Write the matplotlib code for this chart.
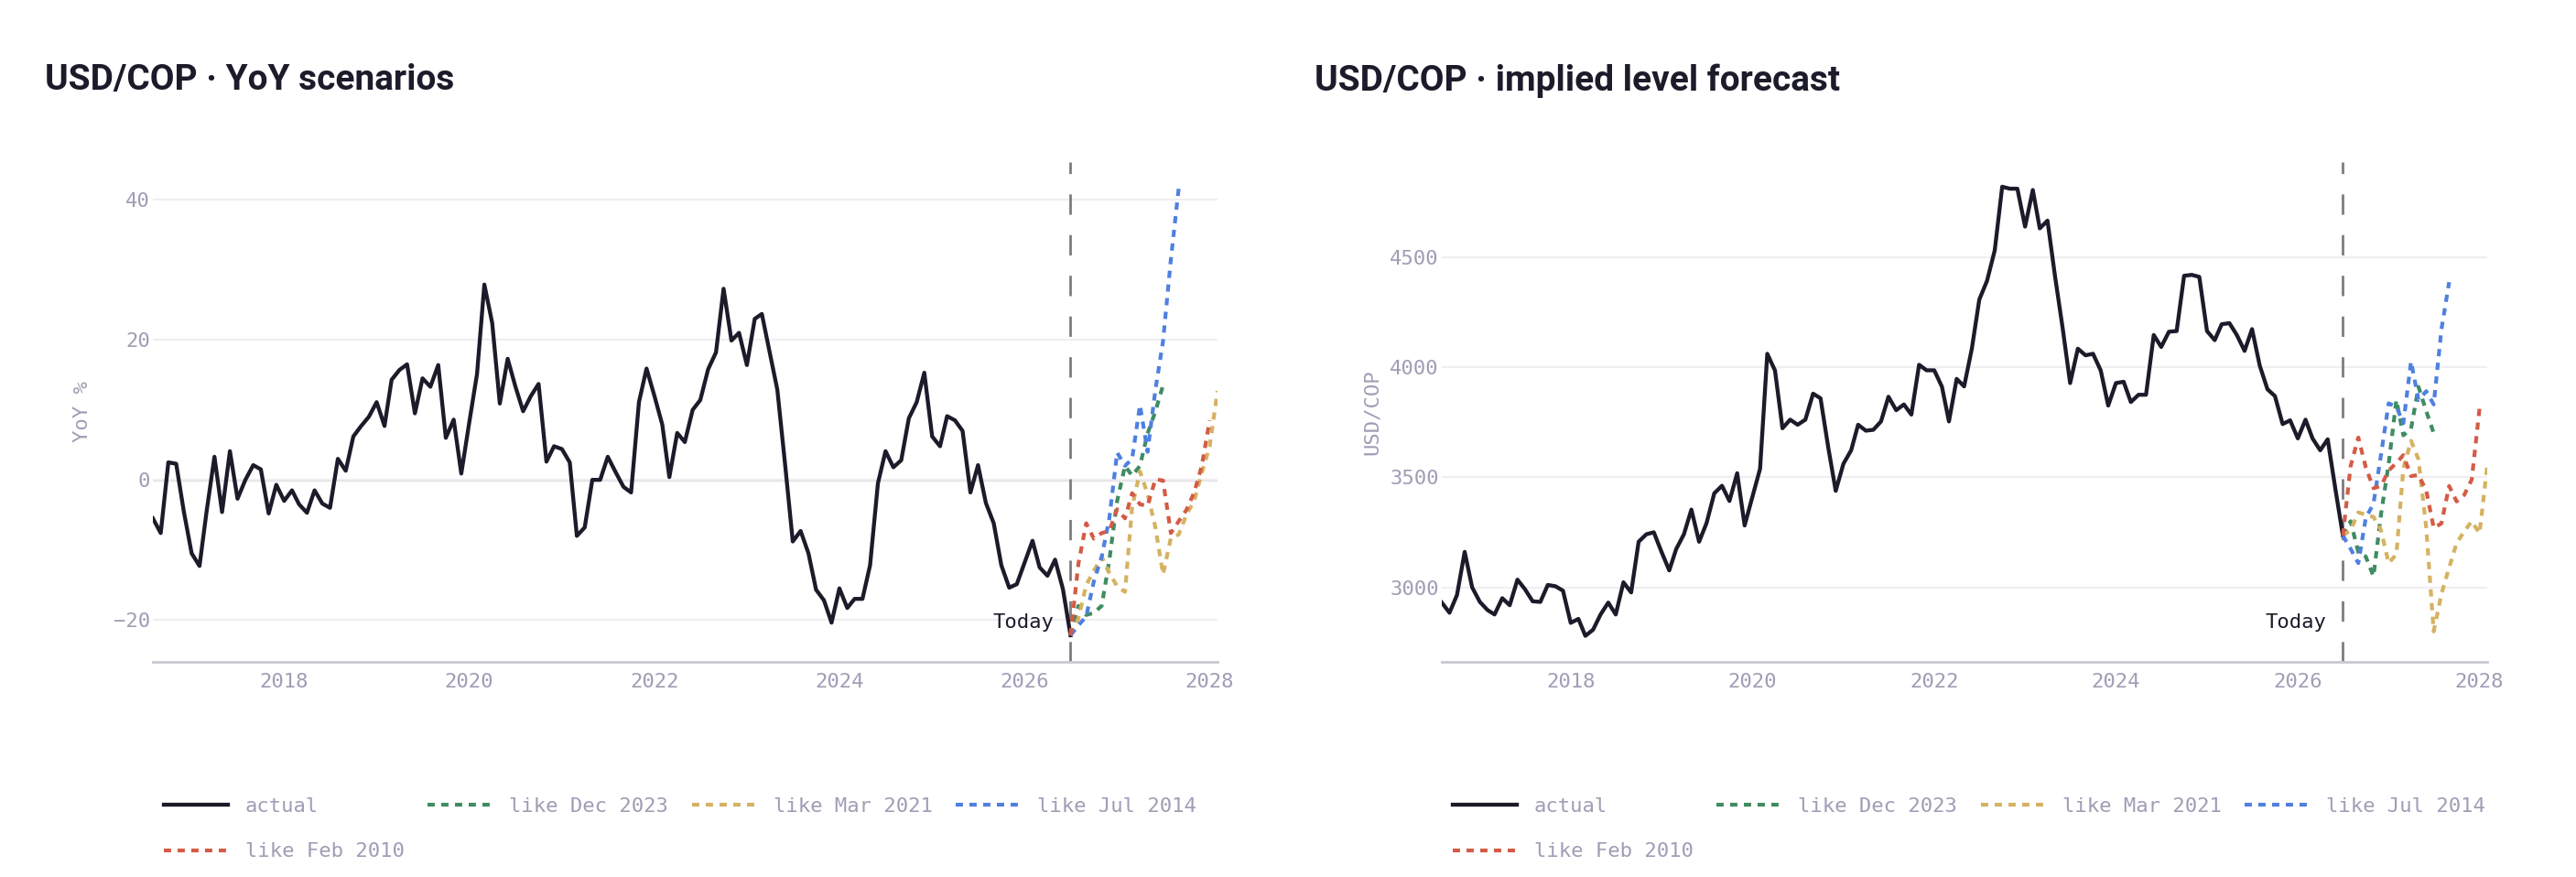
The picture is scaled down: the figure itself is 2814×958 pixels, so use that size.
import numpy as np
import pandas as pd
import matplotlib
import matplotlib.pyplot as plt
import matplotlib.dates as mdates

matplotlib.use('Agg')

plt.rcParams['font.family'] = ['DejaVu Sans Mono', 'DejaVu Sans']

# monthly history, Aug 2016 .. Jul 2026
dates = pd.date_range('2016-08-01', periods=120, freq='MS')
today = dates[-1]
x_end = pd.Timestamp('2028-02-01')

actual_yoy = [
    -5.5, -7.6, 2.5, 2.3, -4.5, -10.5, -12.3, -4.5, 3.3, -4.6,
    4.1, -2.7, 0.0, 2.1, 1.5, -4.8, -0.7, -3.0, -1.5, -3.5,
    -4.7, -1.5, -3.4, -4.0, 3.0, 1.3, 6.2, 7.7, 9.0, 11.1,
    7.7, 14.3, 15.7, 16.5, 9.5, 14.5, 13.3, 16.4, 6.0, 8.6,
    0.9, 8.1, 15.1, 27.9, 22.4, 10.9, 17.3, 13.4, 9.8, 12.0,
    13.7, 2.6, 4.8, 4.4, 2.5, -8.0, -6.8, 0.0, 0.0, 3.3,
    1.1, -1.0, -1.8, 11.1, 15.9, 12.0, 7.9, 0.4, 6.7, 5.4,
    10.0, 11.4, 15.8, 18.2, 27.3, 19.9, 21.0, 16.4, 23.0, 23.7,
    18.2, 12.9, 2.1, -8.8, -7.3, -10.5, -15.7, -17.2, -20.4, -15.5,
    -18.3, -17.0, -17.0, -12.2, -0.5, 4.1, 1.8, 2.8, 8.8, 11.1,
    15.3, 6.2, 4.8, 9.1, 8.5, 7.0, -1.8, 2.1, -3.3, -6.2,
    -12.2, -15.4, -14.9, -11.8, -8.7, -12.5, -13.7, -11.4, -15.6, -22.2,
]

actual_level = [
    2931, 2885, 2965, 3161, 3000, 2934, 2897, 2877, 2951, 2919,
    3035, 2992, 2937, 2934, 3011, 3005, 2985, 2839, 2857, 2780,
    2808, 2877, 2931, 2877, 3023, 2977, 3207, 3241, 3250, 3161,
    3077, 3174, 3241, 3353, 3207, 3292, 3427, 3461, 3392, 3518,
    3281, 3410, 3538, 4060, 3984, 3722, 3761, 3738, 3761, 3879,
    3858, 3635, 3438, 3561, 3622, 3738, 3711, 3715, 3753, 3865,
    3804, 3830, 3784, 4010, 3985, 3985, 3910, 3753, 3946, 3912,
    4083, 4306, 4391, 4529, 4818, 4809, 4809, 4637, 4803, 4629,
    4664, 4414, 4176, 3927, 4083, 4053, 4060, 3984, 3825, 3927,
    3933, 3841, 3874, 3874, 4145, 4091, 4160, 4163, 4414, 4418,
    4409, 4163, 4122, 4194, 4199, 4145, 4073, 4172, 4006, 3899,
    3868, 3741, 3758, 3676, 3761, 3676, 3622, 3672, 3446, 3235,
]

# scenario paths, first value = today
yoy_dec2023 = [-22.2, -18.0, -19.3, -19.0, -18.0, -11.5, -3.0, 2.0, 0.6, 2.0, 6.6, 9.8, 13.5]
yoy_mar2021 = [-22.2, -19.8, -15.0, -13.0, -11.0, -13.3, -15.2, -16.0, -3.9, 1.2,
               -2.0, -6.8, -13.5, -8.3, -7.8, -5.0, -3.0, 1.0, 4.8, 12.7]
yoy_jul2014 = [-22.2, -20.8, -19.5, -14.5, -11.0, -5.5, 3.9, 2.0, 3.0, 10.7,
               4.0, 12.9, 19.8, 31.5, 41.7]
yoy_feb2010 = [-22.2, -12.0, -6.2, -8.4, -7.6, -7.3, -4.2, -5.5, -1.9, -3.5,
               -3.7, 0.1, -0.1, -7.6, -5.9, -4.3, -1.8, 2.0, 8.5]

lvl_dec2023 = [3235, 3300, 3160, 3140, 3050, 3330, 3560, 3850, 3690, 3720, 3910, 3800, 3700]
lvl_mar2021 = [3235, 3260, 3340, 3330, 3320, 3260, 3110, 3150, 3540, 3665,
               3580, 3270, 2800, 2970, 3090, 3200, 3255, 3300, 3245, 3550]
lvl_jul2014 = [3235, 3175, 3110, 3315, 3380, 3600, 3835, 3820, 3745, 4025,
               3850, 3890, 3830, 4170, 4385]
lvl_feb2010 = [3235, 3550, 3680, 3545, 3450, 3460, 3530, 3565, 3600, 3505,
               3510, 3440, 3270, 3290, 3460, 3390, 3420, 3490, 3810]

scenario_labels = ['like Dec 2023', 'like Mar 2021', 'like Jul 2014', 'like Feb 2010']
scenario_colors = ['#3f8c62', '#d5b262', '#4f80e0', '#d45b46']

INK = '#1b1b2a'
MUTED = '#a09db5'
DOTS = (0, (1.9, 1.7))


def draw_panel(ax, actual, scenarios, yticks, ylim, ylabel, zero_line=False):
    ax.set_xlim(dates[0], x_end)
    ax.set_ylim(*ylim)
    ax.set_yticks(yticks)
    ax.grid(axis='y', color='#efeff2', lw=0.8, zorder=0)
    ax.grid(axis='x', visible=False)
    if zero_line:
        ax.axhline(0, color='#cfcfd5', lw=0.9, zorder=1)

    ax.plot(dates, actual, color=INK, lw=1.55, zorder=3, label='actual')
    for vals, lab, col in zip(scenarios, scenario_labels, scenario_colors):
        fdates = pd.date_range(today, periods=len(vals), freq='MS')
        ax.plot(fdates, vals, color=col, lw=1.5, linestyle=DOTS,
                dash_capstyle='butt', zorder=4, label=lab)

    ax.axvline(today, color='#7c7c82', lw=1.0, linestyle=(0, (8, 8)), zorder=2)
    ax.annotate('Today', xy=(today, 0.078), xycoords=('data', 'axes fraction'),
                xytext=(-6.5, 0), textcoords='offset points', ha='right', va='center',
                fontsize=8, color=INK)

    for side in ['top', 'right', 'left']:
        ax.spines[side].set_visible(False)
    ax.spines['bottom'].set_color('#c9c9d2')
    ax.spines['bottom'].set_linewidth(1.0)

    ax.xaxis.set_major_locator(mdates.YearLocator(2))
    ax.xaxis.set_major_formatter(mdates.DateFormatter('%Y'))
    ax.tick_params(axis='both', length=0, labelsize=8, labelcolor=MUTED)
    ax.tick_params(axis='y', pad=1.2)
    ax.tick_params(axis='x', pad=4.3)

    ax.set_ylabel(ylabel, fontsize=8, color=MUTED)
    ax.yaxis.set_label_coords(-0.058, 0.5)


fig = plt.figure(figsize=(2814 / 200, 958 / 200), dpi=200)
ax1 = fig.add_axes([167 / 2814, 1 - 723 / 958, (1330 - 167) / 2814, 546 / 958])
ax2 = fig.add_axes([1575 / 2814, 1 - 723 / 958, (2717 - 1575) / 2814, 546 / 958])

draw_panel(ax1, actual_yoy, [yoy_dec2023, yoy_mar2021, yoy_jul2014, yoy_feb2010],
           [-20, 0, 20, 40], (-26.0, 45.4), 'YoY %', zero_line=True)
draw_panel(ax2, actual_level, [lvl_dec2023, lvl_mar2021, lvl_jul2014, lvl_feb2010],
           [3000, 3500, 4000, 4500], (2662, 4930), 'USD/COP')

title_font = dict(fontsize=14, fontweight='bold', family=['Roboto', 'DejaVu Sans'],
                  color=INK, va='center')
fig.text(49 / 2814, 1 - 88 / 958, 'USD/COP · YoY scenarios', **title_font)
fig.text(1436 / 2814, 1 - 88 / 958, 'USD/COP · implied level forecast', **title_font)

for ax, lx in [(ax1, 179), (ax2, 1587)]:
    h, l = ax.get_legend_handles_labels()
    # column-major fill: put Feb 2010 under "actual"
    order = [0, 4, 1, 2, 3]
    leg = ax.legend([h[i] for i in order], [l[i] for i in order],
                    loc='upper left', bbox_to_anchor=(lx / 2814, 1 - 871 / 958),
                    bbox_transform=fig.transFigure, ncol=4, frameon=False,
                    fontsize=8, handlelength=3.15, handletextpad=0.85,
                    columnspacing=1.15, labelspacing=1.32, borderpad=0, borderaxespad=0)
    for t in leg.get_texts():
        t.set_color(MUTED)

fig.savefig('out.png', dpi=200, facecolor='white')
